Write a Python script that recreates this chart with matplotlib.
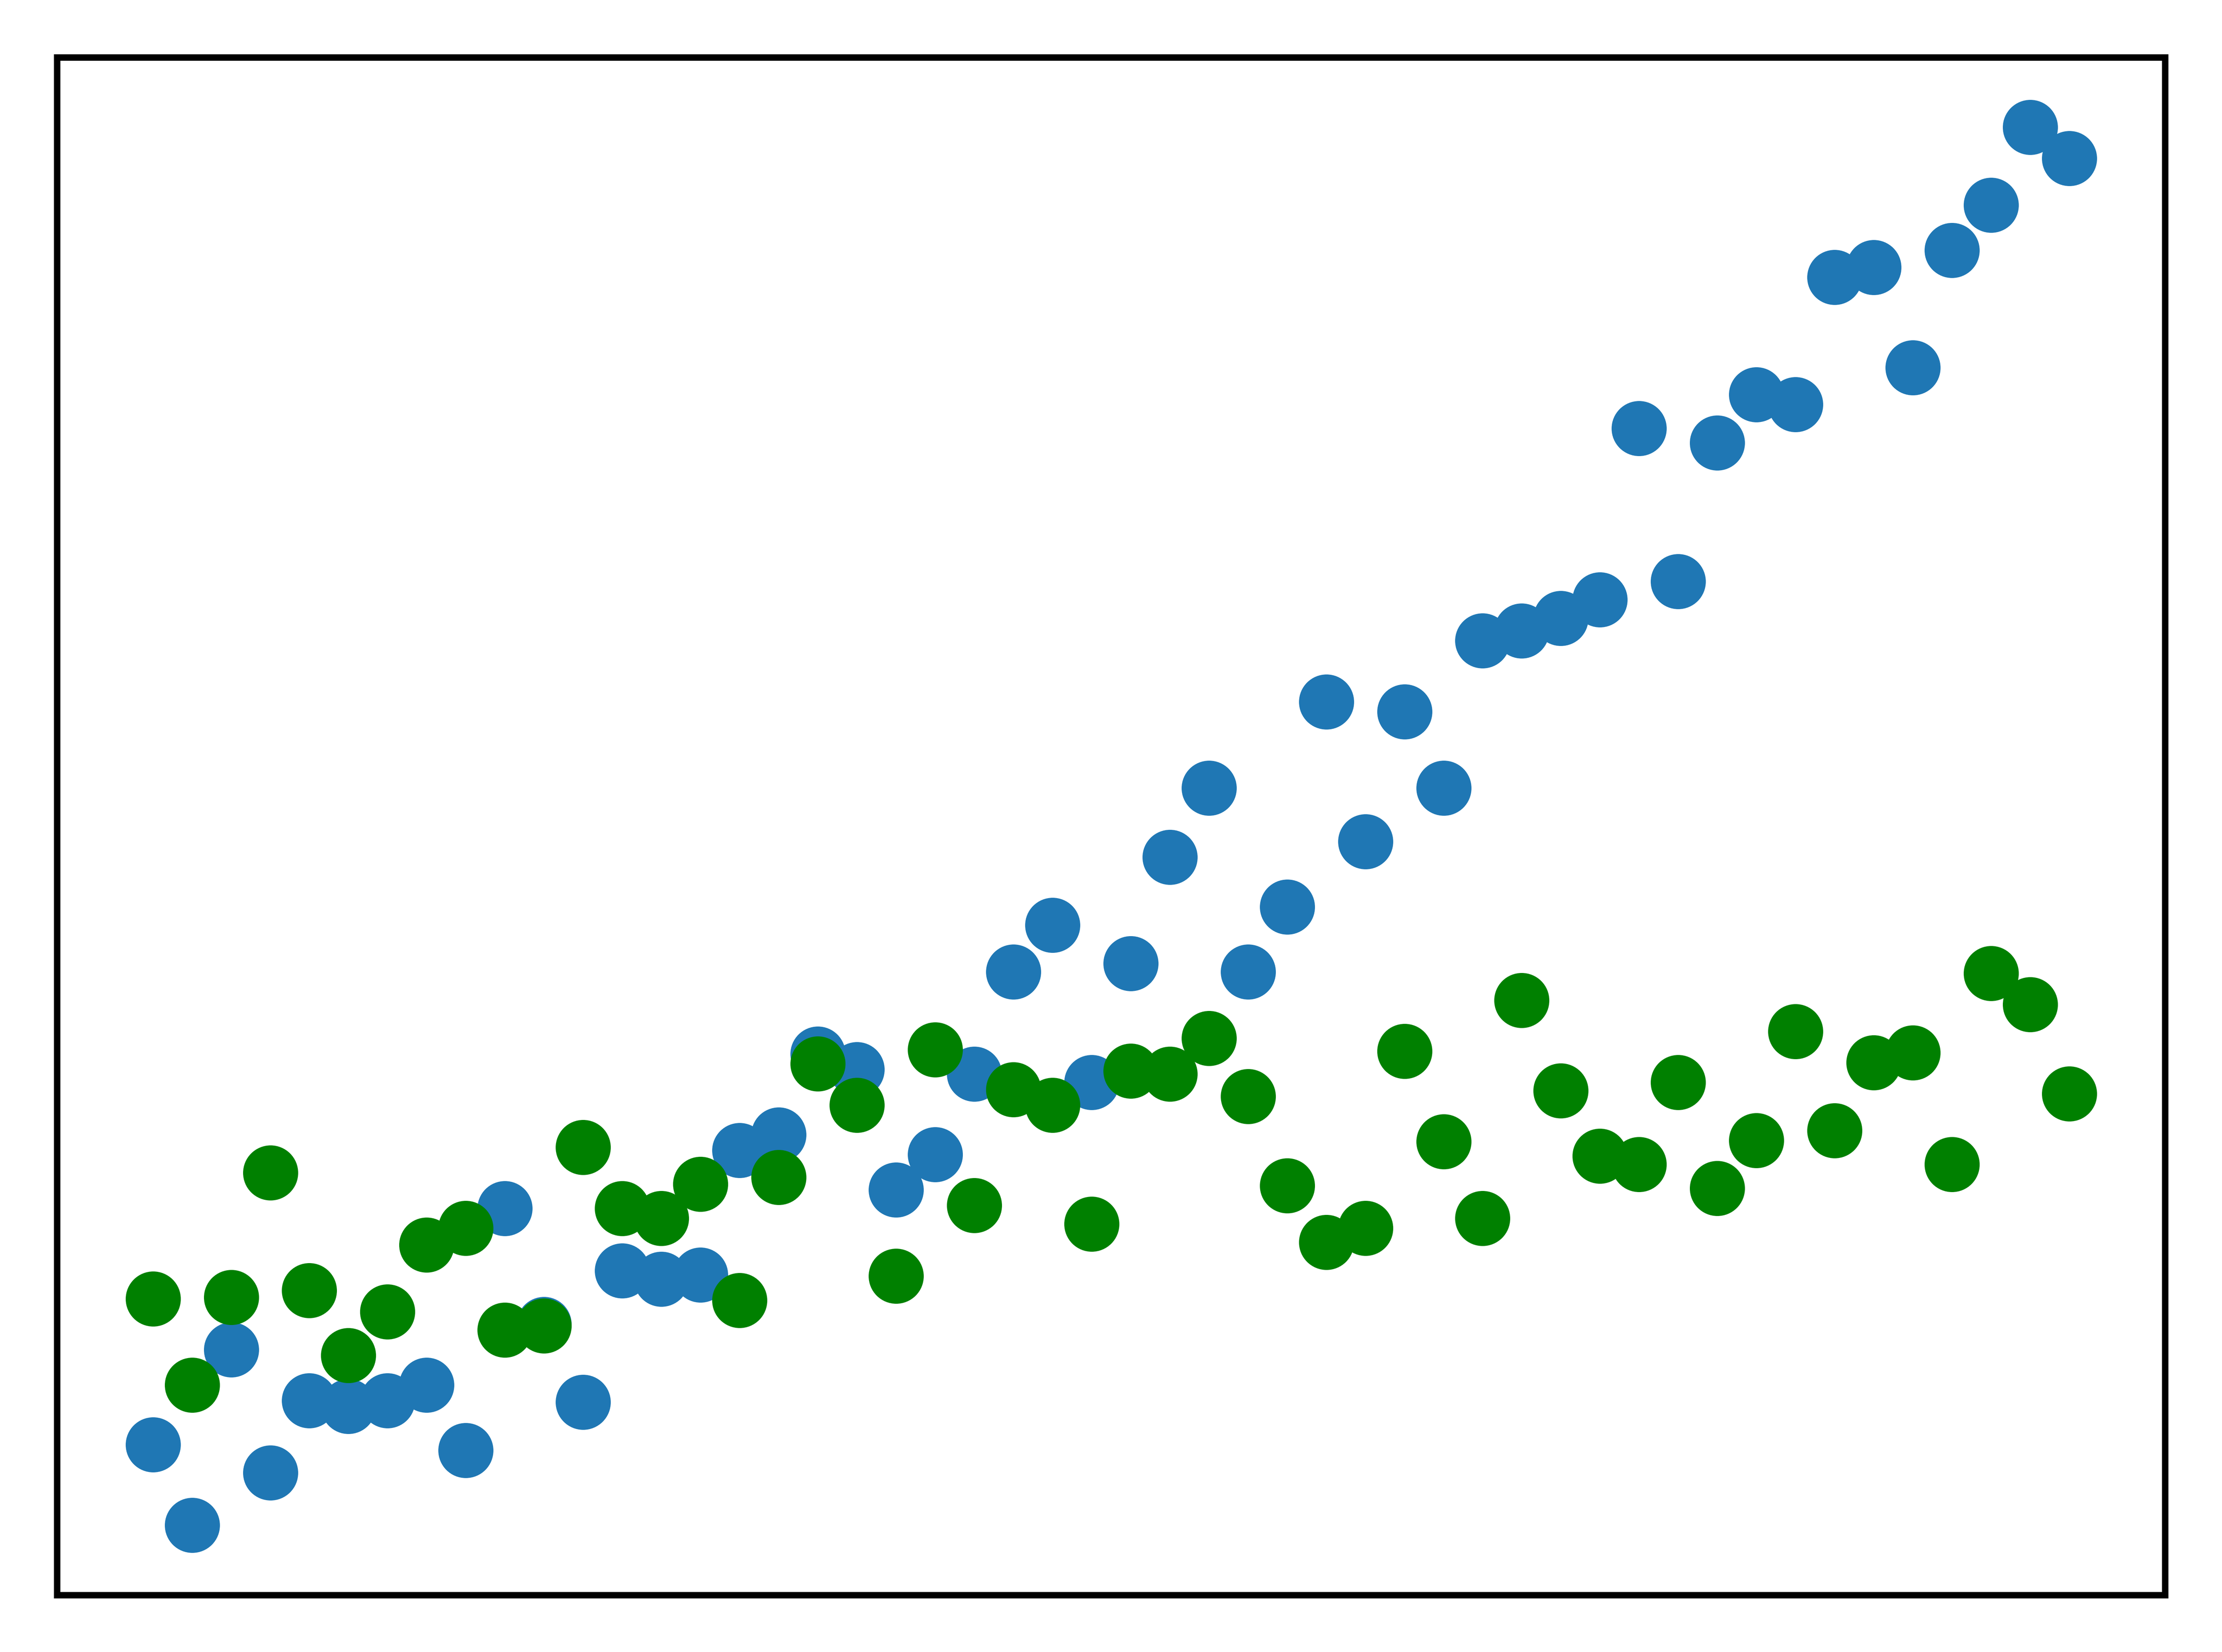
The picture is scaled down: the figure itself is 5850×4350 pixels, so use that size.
import numpy as np
import matplotlib
matplotlib.use("Agg")
import matplotlib.pyplot as plt

# values (arbitrary units, no tick labels shown)
x_idx = np.arange(50)

blue_vals = [10.6, 4.9, 17.3, 8.6, 13.7, 13.3, 13.7, 14.8, 10.2, 27.3,
             19.1, 13.6, 22.9, 22.3, 22.6, 31.4, 32.5, 38.2, 37.1, 28.6,
             31.1, 36.8, 44.0, 47.3, 36.2, 44.6, 52.1, 57.0, 44.0, 48.6,
             63.1, 53.2, 62.4, 57.0, 67.4, 68.1, 69.0, 70.3, 82.4, 71.6,
             81.4, 84.8, 84.1, 93.1, 93.8, 86.7, 95.0, 98.2, 103.7, 101.5]

green_vals = [20.9, 14.8, 21.0, 29.8, 21.5, 16.9, 20.0, 24.7, 25.9, 18.7,
              19.0, 31.6, 27.3, 26.6, 29.0, 20.8, 29.5, 37.5, 34.6, 22.5,
              38.5, 27.5, 35.7, 34.6, 26.2, 37.0, 36.8, 39.3, 35.2, 28.9,
              24.9, 25.9, 38.4, 32.0, 26.6, 42.0, 35.6, 31.0, 30.4, 36.2,
              28.7, 32.1, 39.8, 32.8, 37.6, 38.3, 30.4, 43.9, 41.7, 35.4]

fig = plt.figure(figsize=(5.85, 4.35), dpi=1000)
ax = fig.add_axes([0.0257, 0.0344, 0.9487, 0.931])

ax.scatter(x_idx, blue_vals, s=109, color='#1f77b4', linewidths=0)
ax.scatter(x_idx, green_vals, s=109, color='green', linewidths=0)

ax.set_xticks([])
ax.set_yticks([])
for sp in ax.spines.values():
    sp.set_linewidth(1.22)

fig.savefig("out.png", dpi=1000)
